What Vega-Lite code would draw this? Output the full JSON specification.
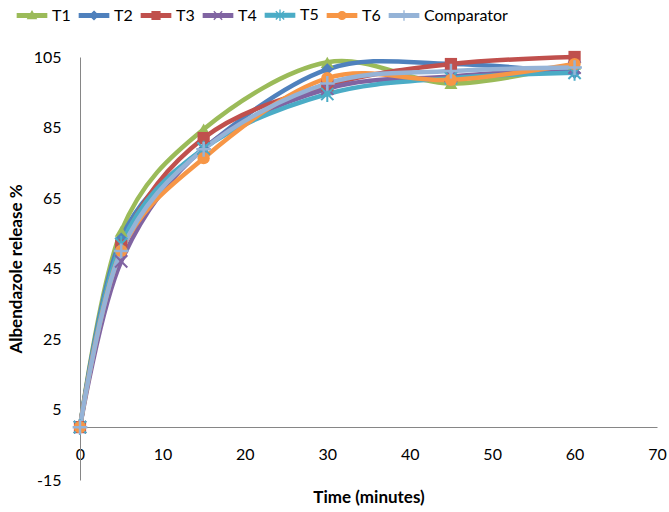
{
  "$schema": "https://vega.github.io/schema/vega-lite/v6.json",
  "width": 577,
  "height": 423,
  "autosize": {"type": "none"},
  "padding": {"left": 80, "top": 57, "right": 12, "bottom": 32},
  "background": "white",
  "config": {
    "view": {"stroke": null},
    "font": "Lato",
    "axis": {"labelFont": "Lato", "titleFont": "Lato", "labelColor": "#000000", "titleColor": "#000000", "domainColor": "#868686", "grid": false, "ticks": false, "labelFontSize": 16},
    "legend": {"labelFont": "Lato", "labelFontSize": 16, "labelColor": "#000000"}
  },
  "data": {
    "values": [
      {"time": 0, "release": 0, "series": "T1"},
      {"time": 5, "release": 55.6, "series": "T1"},
      {"time": 15, "release": 84.5, "series": "T1"},
      {"time": 30, "release": 103.5, "series": "T1"},
      {"time": 45, "release": 97.5, "series": "T1"},
      {"time": 60, "release": 103, "series": "T1"},
      {"time": 0, "release": 0, "series": "T2"},
      {"time": 5, "release": 53.5, "series": "T2"},
      {"time": 15, "release": 79, "series": "T2"},
      {"time": 30, "release": 101.5, "series": "T2"},
      {"time": 45, "release": 103, "series": "T2"},
      {"time": 60, "release": 100.5, "series": "T2"},
      {"time": 0, "release": 0, "series": "T3"},
      {"time": 5, "release": 51.5, "series": "T3"},
      {"time": 15, "release": 82, "series": "T3"},
      {"time": 30, "release": 97, "series": "T3"},
      {"time": 45, "release": 103, "series": "T3"},
      {"time": 60, "release": 105, "series": "T3"},
      {"time": 0, "release": 0, "series": "T4"},
      {"time": 5, "release": 47, "series": "T4"},
      {"time": 15, "release": 79, "series": "T4"},
      {"time": 30, "release": 96, "series": "T4"},
      {"time": 45, "release": 99.5, "series": "T4"},
      {"time": 60, "release": 102, "series": "T4"},
      {"time": 0, "release": 0, "series": "T5"},
      {"time": 5, "release": 52, "series": "T5"},
      {"time": 15, "release": 79, "series": "T5"},
      {"time": 30, "release": 94.5, "series": "T5"},
      {"time": 45, "release": 99, "series": "T5"},
      {"time": 60, "release": 100.5, "series": "T5"},
      {"time": 0, "release": 0, "series": "T6"},
      {"time": 5, "release": 50, "series": "T6"},
      {"time": 15, "release": 76.3, "series": "T6"},
      {"time": 30, "release": 99, "series": "T6"},
      {"time": 45, "release": 98.5, "series": "T6"},
      {"time": 60, "release": 103, "series": "T6"},
      {"time": 0, "release": 0, "series": "Comparator"},
      {"time": 5, "release": 50, "series": "Comparator"},
      {"time": 15, "release": 78.8, "series": "Comparator"},
      {"time": 30, "release": 97.5, "series": "Comparator"},
      {"time": 45, "release": 101, "series": "Comparator"},
      {"time": 60, "release": 102, "series": "Comparator"}
    ]
  },
  "encoding": {
    "x": {
      "field": "time", "type": "quantitative",
      "scale": {"domain": [0, 70], "nice": false, "zero": false},
      "axis": {"values": [0, 10, 20, 30, 40, 50, 60, 70], "offset": -53, "labelPadding": 19, "labelFlush": false, "title": "Time (minutes)", "titleFontSize": 17, "titleFontWeight": "bold", "titlePadding": 27}
    },
    "y": {
      "field": "release", "type": "quantitative",
      "scale": {"domain": [-15, 105], "nice": false, "zero": false},
      "axis": {"values": [-15, 5, 25, 45, 65, 85, 105], "labelExpr": "'' + datum.value", "labelPadding": 19, "title": "Albendazole release %", "titleFontSize": 17, "titleFontWeight": "bold", "titlePadding": 8}
    },
    "color": {
      "field": "series", "type": "nominal",
      "scale": {"domain": ["T1", "T2", "T3", "T4", "T5", "T6", "Comparator"], "range": ["#9BBB59", "#4F81BD", "#C0504D", "#8064A2", "#4BACC6", "#F79646", "#95B3D7"]},
      "legend": {
        "orient": "none", "legendX": -56, "legendY": -50, "direction": "horizontal", "title": null,
        "symbolSize": 110, "symbolStrokeWidth": 1.3, "labelOffset": 12, "columnPadding": 5,
        "encode": {
          "symbols": {
            "update": {
              "shape": {"signal": "datum.value==='T1' ? 'M-2.8,-0.35H2.8V0.35H-2.8ZM0,-0.8L0.8,0.6L-0.8,0.6Z' : datum.value==='T2' ? 'M-2.8,-0.35H2.8V0.35H-2.8ZM0,-0.8L0.8,0L0,0.8L-0.8,0Z' : datum.value==='T3' ? 'M-2.8,-0.35H2.8V0.35H-2.8ZM-0.75,-0.75H0.75V0.75H-0.75Z' : datum.value==='T6' ? 'M-2.8,-0.35H2.8V0.35H-2.8ZM0.75,0A0.75,0.75,0,1,1,-0.75,0A0.75,0.75,0,1,1,0.75,0Z' : datum.value==='T4' ? 'M-2.8,-0.35H2.8V0.35H-2.8ZM-0.8,-0.8L0.8,0.8M-0.8,0.8L0.8,-0.8' : datum.value==='T5' ? 'M-2.8,-0.35H2.8V0.35H-2.8ZM-0.8,-0.8L0.8,0.8M-0.8,0.8L0.8,-0.8M0,-1.1L0,1.1' : 'M-2.8,-0.35H2.8V0.35H-2.8ZM0,-1L0,1'"},
              "fill": {"scale": "color", "field": "value"},
              "stroke": {"scale": "color", "field": "value"},
              "strokeWidth": {"value": 1.3},
              "opacity": {"value": 1}
            }
          }
        }
      }
    }
  },
  "layer": [
    {
      "mark": {"type": "line", "interpolate": "cardinal", "tension": 0, "strokeWidth": 4.5},
      "encoding": {"order": {"field": "time"}}
    },
    {
      "transform": [{"filter": {"field": "series", "equal": "T1"}}],
      "mark": {"type": "point", "filled": true, "opacity": 1, "size": 170, "shape": "triangle-up"}
    },
    {
      "transform": [{"filter": {"field": "series", "equal": "T2"}}],
      "mark": {"type": "point", "filled": true, "opacity": 1, "size": 150, "shape": "diamond"}
    },
    {
      "transform": [{"filter": {"field": "series", "equal": "T3"}}],
      "mark": {"type": "point", "filled": true, "opacity": 1, "size": 150, "shape": "square"}
    },
    {
      "transform": [{"filter": {"field": "series", "equal": "T4"}}],
      "mark": {"type": "point", "filled": false, "opacity": 1, "strokeWidth": 2, "size": 150, "shape": "M-1,-1L1,1M-1,1L1,-1"}
    },
    {
      "transform": [{"filter": {"field": "series", "equal": "T5"}}],
      "mark": {"type": "point", "filled": false, "opacity": 1, "strokeWidth": 2, "size": 150, "shape": "M-1,-1L1,1M-1,1L1,-1M0,-1.3L0,1.3"}
    },
    {
      "transform": [{"filter": {"field": "series", "equal": "T6"}}],
      "mark": {"type": "point", "filled": true, "opacity": 1, "size": 150, "shape": "circle"}
    },
    {
      "transform": [{"filter": {"field": "series", "equal": "Comparator"}}],
      "mark": {"type": "point", "filled": false, "opacity": 1, "strokeWidth": 2.5, "size": 150, "shape": "M-1.2,0L1.2,0M0,-1.2L0,1.2"}
    }
  ]
}
